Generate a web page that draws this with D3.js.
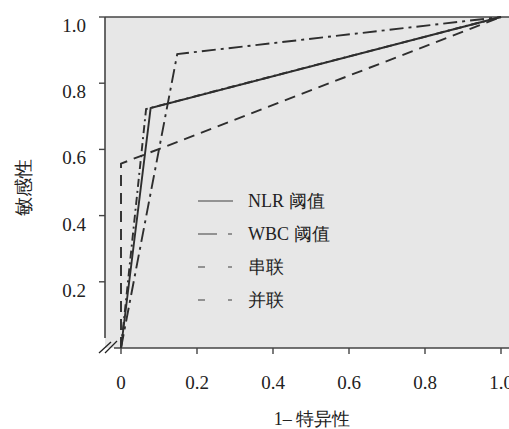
<!DOCTYPE html>
<html>
<head>
<meta charset="utf-8">
<script src="https://cdn.jsdelivr.net/npm/d3@7"></script>
<style>
  body { margin: 0; background: #fff; }
</style>
</head>
<body>
<svg id="roc" width="509" height="429"></svg>
<script>
const svg = d3.select("#roc");
const fontFamily = "Liberation Serif";

// data: [1 - specificity, sensitivity]
const seriesNames = ["NLR 阈值", "WBC 阈值", "串联", "并联"];
const nlrPoints = [[0, 0], [0.078, 0.725], [1, 1]];
const wbcPoints = [[0, 0], [0.148, 0.888], [1, 1]];
const serialPoints = [[0, 0], [0, 0.557], [1, 1]];
const parallelPoints = [[0, 0], [0.066, 0.722], [1, 1]];
const xTicks = [0, 0.2, 0.4, 0.6, 0.8, 1.0];
const xTickLabels = ["0", "0.2", "0.4", "0.6", "0.8", "1.0"];
const yTicks = [0.2, 0.4, 0.6, 0.8, 1.0];
const yTickLabels = ["0.2", "0.4", "0.6", "0.8", "1.0"];

const series = [
  { name: seriesNames[0], pts: nlrPoints, dash: null, legendDash: null },
  { name: seriesNames[1], pts: wbcPoints, dash: "14,5,3,5", legendDash: "19,11,4,20" },
  { name: seriesNames[2], pts: serialPoints, dash: "11,7", legendDash: "7,23,4,20" },
  { name: seriesNames[3], pts: parallelPoints, dash: "8,4,2,4", legendDash: "7,23,4,20" }
];

const x = d3.scaleLinear().domain([0, 1]).range([121, 501]);
const y = d3.scaleLinear().domain([0, 1]).range([348, 17]);

// plot background
svg.append("rect")
   .attr("x", 105).attr("y", 17)
   .attr("width", 509 - 105).attr("height", 348 - 17)
   .attr("fill", "#e7e7e7");

// frame: top line, left axis (broken), bottom axis
const frame = svg.append("g").attr("stroke", "#444").attr("stroke-width", 1.6).attr("fill", "none");
frame.append("line").attr("x1", 105).attr("x2", 509).attr("y1", 17).attr("y2", 17);
frame.append("line").attr("x1", 105).attr("x2", 105).attr("y1", 17).attr("y2", 338);
frame.append("line").attr("x1", 114).attr("x2", 509).attr("y1", 348).attr("y2", 348);

// axis break marks
svg.append("line").attr("x1", 99).attr("y1", 353).attr("x2", 111).attr("y2", 342)
   .attr("stroke", "#222").attr("stroke-width", 1.3);
svg.append("line").attr("x1", 105).attr("y1", 353).attr("x2", 117).attr("y2", 341)
   .attr("stroke", "#222").attr("stroke-width", 1.3);

// ticks
svg.append("g").selectAll("line").data(xTicks).join("line")
   .attr("x1", d => x(d)).attr("x2", d => x(d))
   .attr("y1", 348).attr("y2", 354)
   .attr("stroke", "#444").attr("stroke-width", 1.4);
svg.append("g").selectAll("line").data(yTicks).join("line")
   .attr("x1", 99).attr("x2", 105)
   .attr("y1", d => y(d)).attr("y2", d => y(d))
   .attr("stroke", "#444").attr("stroke-width", 1.4);

// tick labels
svg.append("g").selectAll("text").data(xTicks).join("text")
   .attr("x", d => x(d))
   .attr("y", 389)
   .attr("text-anchor", "middle")
   .attr("font-family", fontFamily)
   .attr("fill", "#222")
   .style("font-size", "19px")
   .text((d, i) => xTickLabels[i]);
svg.append("g").selectAll("text").data(yTicks).join("text")
   .attr("x", 86)
   .attr("y", d => y(d) + 15)
   .attr("text-anchor", "end")
   .attr("font-family", fontFamily)
   .attr("fill", "#222")
   .style("font-size", "19px")
   .text((d, i) => yTickLabels[i]);

// axis titles
svg.append("text")
   .text("1– 特异性")
   .attr("x", 312).attr("y", 425)
   .attr("text-anchor", "middle")
   .attr("font-family", fontFamily)
   .attr("fill", "#222")
   .style("font-size", "18px");
svg.append("text")
   .text("敏感性")
   .attr("transform", "translate(30,187) rotate(-90)")
   .attr("text-anchor", "middle")
   .attr("font-family", fontFamily)
   .attr("fill", "#222")
   .style("font-size", "19px");

// ROC lines
const line = d3.line().x(d => x(d[0])).y(d => y(d[1]));
svg.append("g").selectAll("path").data(series).join("path")
   .attr("d", d => line(d.pts))
   .attr("fill", "none")
   .attr("stroke", "#2e2e2e")
   .attr("stroke-width", 1.9)
   .attr("stroke-dasharray", d => d.dash);

// legend
const legend = svg.append("g").attr("transform", "translate(198,201)");
series.forEach((d, i) => {
  legend.append("line")
        .attr("x1", 0).attr("x2", 35)
        .attr("y1", i * 33).attr("y2", i * 33)
        .attr("stroke", "#777")
        .attr("stroke-width", 1.5)
        .attr("stroke-dasharray", d.legendDash);
  legend.append("text")
        .text(d.name)
        .attr("x", 50)
        .attr("y", i * 33 + 6)
        .attr("font-family", fontFamily)
        .attr("fill", "#222")
        .style("font-size", "18px");
});
</script>
</body>
</html>
